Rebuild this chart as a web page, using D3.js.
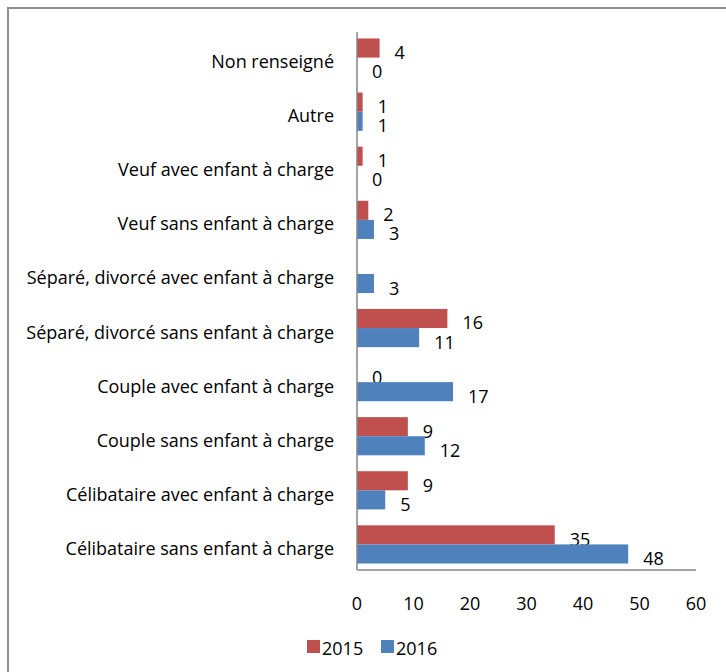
<!DOCTYPE html>
<html>
<head>
<meta charset="utf-8">
<script src="https://cdn.jsdelivr.net/npm/d3@7"></script>
<style>
  html, body { margin: 0; padding: 0; background: #fff; }
  svg { display: block; }
  text { font-family: "Open Sans", "Noto Sans", sans-serif; fill: #000; }
</style>
</head>
<body>
<svg id="chart" width="726" height="672"></svg>
<script>
// Situation familiale, 2015 vs 2016
const categories = [
  "Non renseigné",
  "Autre",
  "Veuf avec enfant à charge",
  "Veuf sans enfant à charge",
  "Séparé, divorcé avec enfant à charge",
  "Séparé, divorcé sans enfant à charge",
  "Couple avec enfant à charge",
  "Couple sans enfant à charge",
  "Célibataire avec enfant à charge",
  "Célibataire sans enfant à charge"
];
const values2015 = [4, 1, 1, 2, null, 16, 0, 9, 9, 35];
const values2016 = [0, 1, 0, 3, 3, 11, 17, 12, 5, 48];
const seriesNames = ["2015", "2016"];
const seriesColors = ["#C0504D", "#4F81BD"];
const xTicks = [0, 10, 20, 30, 40, 50, 60];

const series = [values2015, values2016];
const FS = 18;

const svg = d3.select("#chart");

// outer frame (runs off the right and bottom edges)
svg.append("rect")
  .attr("x", 8).attr("y", 8)
  .attr("width", 760).attr("height", 700)
  .attr("fill", "none")
  .attr("stroke", "#8e8e8e")
  .attr("stroke-width", 2);

const x = d3.scaleLinear().domain([0, 60]).range([357, 696]);
const y = d3.scaleBand().domain(categories).range([32, 570])
  .paddingInner(0.294).paddingOuter(0.12);
const ySub = d3.scaleBand().domain(seriesNames).range([0, y.bandwidth()]);

// bars and value labels
series.forEach((vals, si) => {
  const g = svg.append("g");
  categories.forEach((c, i) => {
    const v = vals[i];
    if (v === null) return;
    const y0 = y(c) + ySub(seriesNames[si]);
    if (v > 0) {
      g.append("rect")
        .attr("x", x(0))
        .attr("y", y0)
        .attr("width", x(v) - x(0))
        .attr("height", ySub.bandwidth())
        .attr("fill", seriesColors[si]);
    }
    g.append("text")
      .attr("x", x(v) + 15)
      .attr("y", y0 + ySub.bandwidth() / 2 + 11)
      .attr("font-size", FS)
      .text(v);
  });
});

// category labels
svg.append("g").selectAll("text")
  .data(categories)
  .join("text")
  .attr("x", 334)
  .attr("y", d => y(d) + y.bandwidth() / 2 + 10.5)
  .attr("text-anchor", "end")
  .attr("font-size", FS)
  .text(d => d);

// axis lines
svg.append("line")
  .attr("x1", x(0)).attr("x2", x(0))
  .attr("y1", 32).attr("y2", 570)
  .attr("stroke", "#868686").attr("stroke-width", 1.5);
svg.append("line")
  .attr("x1", x(0)).attr("x2", x(60))
  .attr("y1", 570).attr("y2", 570)
  .attr("stroke", "#868686").attr("stroke-width", 1.5);

// x tick labels
svg.append("g").selectAll("text")
  .data(xTicks)
  .join("text")
  .attr("x", d => x(d))
  .attr("y", 609.5)
  .attr("text-anchor", "middle")
  .attr("font-size", FS)
  .text(d => d);

// legend
const legend = svg.append("g");
const legendX = [307, 381];
seriesNames.forEach((n, i) => {
  legend.append("rect")
    .attr("x", legendX[i]).attr("y", 640)
    .attr("width", 13).attr("height", 13)
    .attr("fill", seriesColors[i]);
  legend.append("text")
    .attr("x", legendX[i] + 15).attr("y", 655)
    .attr("font-size", FS)
    .text(n);
});
</script>
</body>
</html>
